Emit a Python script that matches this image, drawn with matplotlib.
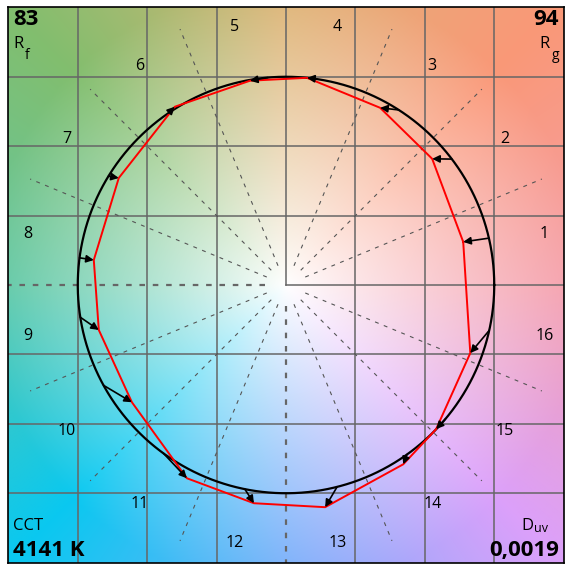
import numpy as np
import matplotlib
matplotlib.use('Agg')
import matplotlib.pyplot as plt

plt.rcParams['font.family'] = ['Open Sans', 'DejaVu Sans']

# hue bins, reference hue angle (deg, on unit circle) and test point per bin
bins = [str(i) for i in range(1, 17)]
ref_angle = [13.0, 37.2, 57.2, 83.0, 95.0, 124.4, 148.5, 172.5,
             188.9, 208.8, 234.0, 258.6, 284.2, 305.5, 320.0, 347.4]
test_x = [0.851, 0.702, 0.452, 0.101, -0.173, -0.534, -0.803, -0.923,
          -0.899, -0.740, -0.476, -0.154, 0.188, 0.563, 0.721, 0.885]
test_y = [0.207, 0.606, 0.851, 0.995, 0.981, 0.856, 0.514, 0.120,
          -0.216, -0.563, -0.928, -1.048, -1.067, -0.861, -0.692, -0.327]

rf_value = '83'
rg_value = '94'
cct_value = '4141 K'
duv_value = '0,0019'

# background hue wheel colours (at the middle of the frame edge)
hue_angles = [0, 45, 90, 135, 180, 225, 270, 315, 360]
hue_rgb = np.array([[245, 160, 172], [250, 152, 120], [222, 180, 118],
                    [130, 190, 110], [95, 200, 165], [10, 200, 240],
                    [120, 175, 250], [220, 160, 250], [245, 160, 172]])

L = 1.335


def background(n):
    xs = np.linspace(-L, L, n)
    X, Y = np.meshgrid(xs, xs)
    th = np.degrees(np.arctan2(Y, X)) % 360
    r = np.hypot(X, Y)
    w = np.clip(r / 1.45, 0, 1.0) ** 0.9
    img = np.ones((n, n, 3))
    for k in range(3):
        c = np.interp(th, hue_angles, hue_rgb[:, k]) / 255.0
        img[..., k] = 1 + w * (c - 1)
    return np.clip(img, 0, 1)


fig = plt.figure(figsize=(5.73, 5.71), dpi=100)
ax = fig.add_axes([8 / 573, 8 / 571, 556 / 573, 556 / 571])
ax.imshow(background(400), extent=[-L, L, -L, L], origin='lower',
          interpolation='bilinear', zorder=0)
ax.set_xlim(-L, L)
ax.set_ylim(-L, L)
ax.set_xticks([])
ax.set_yticks([])
for s in ax.spines.values():
    s.set_linewidth(1.2)
    s.set_color('black')

gcol = '#666666'
for g in [-1, -2 / 3, -1 / 3, 1 / 3, 2 / 3, 1]:
    ax.axvline(g, color=gcol, lw=1.1, zorder=1)
    ax.axhline(g, color=gcol, lw=1.1, zorder=1)
ax.plot([0, L], [0, 0], color=gcol, lw=1.1, zorder=1)
ax.plot([0, 0], [0, L], color=gcol, lw=1.1, zorder=1)

# radial dashed lines at bin edges
for k in range(16):
    a = np.radians(k * 22.5)
    if k in (0, 4):
        continue
    r0, r1 = 0.1, 1.33
    if k in (8, 12):
        ax.plot([r0 * np.cos(a), 1.4 * np.cos(a)], [r0 * np.sin(a), 1.4 * np.sin(a)],
                color=gcol, lw=1.6, dashes=(2.5, 3.5), zorder=1)
    else:
        ax.plot([r0 * np.cos(a), r1 * np.cos(a)], [r0 * np.sin(a), r1 * np.sin(a)],
                color='#555555', lw=0.8, dashes=(3.5, 5), zorder=1)

# reference circle
t = np.linspace(0, 2 * np.pi, 400)
ax.plot(np.cos(t), np.sin(t), color='black', lw=1.6, zorder=3)

# test polygon
px = test_x + test_x[:1]
py = test_y + test_y[:1]
ax.plot(px, py, color='red', lw=1.4, zorder=4)

# arrows reference -> test
for a, x, y in zip(ref_angle, test_x, test_y):
    ra = np.radians(a)
    ax.annotate('', xy=(x, y), xytext=(np.cos(ra), np.sin(ra)),
                arrowprops=dict(arrowstyle='-|>', color='black', lw=1.2,
                                mutation_scale=11, shrinkA=0, shrinkB=0),
                zorder=5)

# bin labels
for i, lab in enumerate(bins):
    a = np.radians(11.25 + 22.5 * i)
    ax.text(1.265 * np.cos(a), 1.265 * np.sin(a), lab, fontsize=11.5,
            ha='center', va='center', zorder=6)

# corner texts
ax.text(0.009, 0.996, rf_value, transform=ax.transAxes, fontsize=16,
        fontweight='bold', ha='left', va='top')
ax.text(0.009, 0.948, 'R', transform=ax.transAxes, fontsize=12, ha='left', va='top')
ax.text(0.031, 0.927, 'f', transform=ax.transAxes, fontsize=10, ha='left', va='top')

ax.text(0.991, 0.996, rg_value, transform=ax.transAxes, fontsize=16,
        fontweight='bold', ha='right', va='top')
ax.text(0.974, 0.948, 'R', transform=ax.transAxes, fontsize=12, ha='right', va='top')
ax.text(0.992, 0.927, 'g', transform=ax.transAxes, fontsize=10, ha='right', va='top')

ax.text(0.009, 0.052, 'CCT', transform=ax.transAxes, fontsize=12,
        ha='left', va='bottom')
ax.text(0.009, 0.004, cct_value, transform=ax.transAxes, fontsize=16,
        fontweight='bold', ha='left', va='bottom')

ax.text(0.945, 0.052, 'D', transform=ax.transAxes, fontsize=12,
        ha='right', va='bottom')
ax.text(0.946, 0.050, 'uv', transform=ax.transAxes, fontsize=9,
        ha='left', va='bottom')
ax.text(0.991, 0.004, duv_value, transform=ax.transAxes, fontsize=16,
        fontweight='bold', ha='right', va='bottom')

fig.savefig('out.png', dpi=100)
